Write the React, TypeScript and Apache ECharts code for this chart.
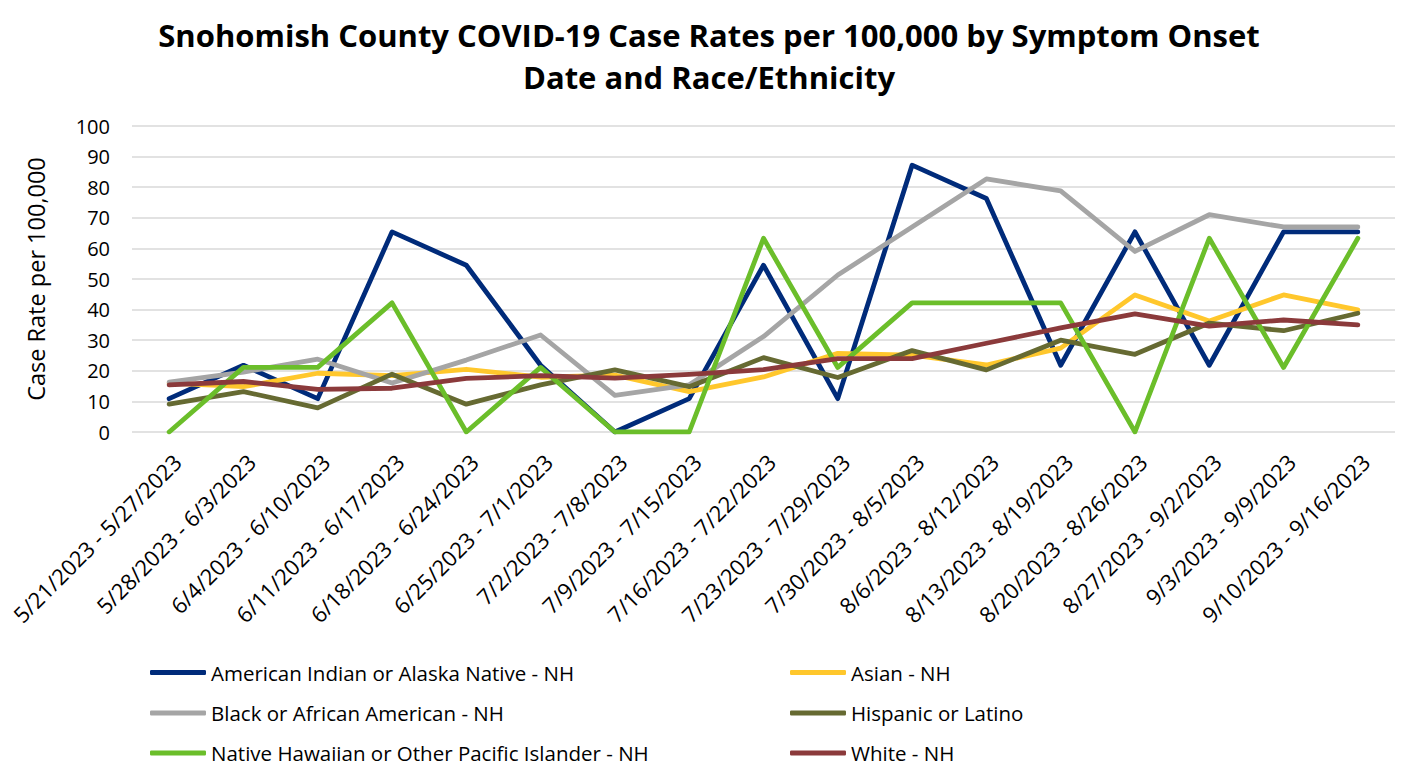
import React, { useEffect, useRef } from "react";
import * as echarts from "echarts";

const categories = [
  "5/21/2023 - 5/27/2023",
  "5/28/2023 - 6/3/2023",
  "6/4/2023 - 6/10/2023",
  "6/11/2023 - 6/17/2023",
  "6/18/2023 - 6/24/2023",
  "6/25/2023 - 7/1/2023",
  "7/2/2023 - 7/8/2023",
  "7/9/2023 - 7/15/2023",
  "7/16/2023 - 7/22/2023",
  "7/23/2023 - 7/29/2023",
  "7/30/2023 - 8/5/2023",
  "8/6/2023 - 8/12/2023",
  "8/13/2023 - 8/19/2023",
  "8/20/2023 - 8/26/2023",
  "8/27/2023 - 9/2/2023",
  "9/3/2023 - 9/9/2023",
  "9/10/2023 - 9/16/2023",
];

const americanIndian = [10.9, 21.8, 10.9, 65.4, 54.5, 21.8, 0, 10.9, 54.5, 10.9, 87.2, 76.3, 21.8, 65.4, 21.8, 65.4, 65.4];
const asian = [16.0, 14.8, 19.2, 18.4, 20.5, 17.9, 18.6, 13.2, 18.0, 25.7, 25.1, 21.9, 27.4, 44.8, 36.3, 44.8, 39.9];
const black = [16.3, 19.6, 23.8, 16.0, 23.5, 31.7, 12.0, 15.4, 31.2, 51.3, 67.0, 82.7, 78.8, 59.0, 71.0, 67.0, 67.0];
const hispanic = [9.1, 13.2, 7.9, 18.9, 9.1, 15.4, 20.3, 14.8, 24.3, 17.8, 26.6, 20.3, 30.0, 25.4, 35.6, 33.1, 38.8];
const nativeHawaiian = [0, 21.1, 21.1, 42.2, 0, 21.1, 0, 0, 63.3, 21.1, 42.2, 42.2, 42.2, 0, 63.3, 21.1, 63.3];
const white = [15.4, 16.5, 13.9, 14.3, 17.5, 18.4, 17.6, 18.8, 20.4, 24.0, 24.0, 29.0, 34.0, 38.6, 34.6, 36.6, 35.0];

const seriesNames = [
  "American Indian or Alaska Native - NH",
  "Asian - NH",
  "Black or African American - NH",
  "Hispanic or Latino",
  "Native Hawaiian or Other Pacific Islander - NH",
  "White - NH",
];
const seriesData = [americanIndian, asian, black, hispanic, nativeHawaiian, white];
const seriesColors = ["#002B7A", "#FFC72C", "#A5A5A5", "#666A32", "#6BBE2A", "#8B3A3B"];

const yTicks = [0, 10, 20, 30, 40, 50, 60, 70, 80, 90, 100];

const FONT = "'Open Sans', sans-serif";

export default function App() {
  const ref = useRef<HTMLDivElement>(null);
  useEffect(() => {
    if (!ref.current) return;
    const chart = echarts.init(ref.current, undefined, { renderer: "svg" });
    const legendText = { fontFamily: FONT, fontSize: 20.5, color: "#000", lineHeight: 20 };
    const rowCenters = [672, 712.5, 752.5];
    const colLefts = [150, 790];
    const legends = seriesNames.map((name, i) => ({
      data: [name],
      orient: "horizontal",
      left: colLefts[i % 2],
      top: rowCenters[Math.floor(i / 2)] - 10,
      padding: 0,
      itemWidth: 56,
      itemHeight: 5,
      icon: "roundRect",
      textStyle: legendText,
    }));
    chart.setOption({
      animation: false,
      backgroundColor: "#fff",
      title: {
        text: "Snohomish County COVID-19 Case Rates per 100,000 by Symptom Onset\nDate and Race/Ethnicity",
        left: 704,
        textAlign: "center",
        top: 9,
        textStyle: { fontFamily: FONT, fontSize: 31, fontWeight: "bold", color: "#000", lineHeight: 42 },
      },
      legend: legends,
      grid: { left: 132, right: 8, top: 126, bottom: 335, containLabel: false },
      xAxis: {
        type: "category",
        data: categories,
        boundaryGap: true,
        axisLine: { show: false },
        axisTick: { show: false },
        axisLabel: {
          interval: 0,
          rotate: 45,
          align: "right",
          verticalAlign: "top",
          margin: 18,
          fontFamily: FONT,
          fontSize: 22,
          color: "#000",
        },
      },
      yAxis: {
        type: "value",
        min: yTicks[0],
        max: yTicks[yTicks.length - 1],
        interval: 10,
        name: "Case Rate per 100,000",
        nameLocation: "middle",
        nameGap: 84,
        nameTextStyle: { fontFamily: FONT, fontSize: 23.5, color: "#000" },
        axisLine: { show: false },
        axisTick: { show: false },
        axisLabel: { margin: 22, fontFamily: FONT, fontSize: 20, color: "#000" },
        splitLine: { lineStyle: { color: "#D9D9D9", width: 1.5 } },
      },
      series: seriesNames.map((name, i) => ({
        name,
        type: "line",
        data: seriesData[i],
        symbol: "none",
        color: seriesColors[i],
        lineStyle: { width: 4.8, color: seriesColors[i], cap: "round", join: "round" },
      })),
    });
    return () => chart.dispose();
  }, []);
  return (
    <div
      ref={ref}
      style={{ position: "absolute", left: 0, top: 0, width: 1403, height: 767 }}
    />
  );
}
